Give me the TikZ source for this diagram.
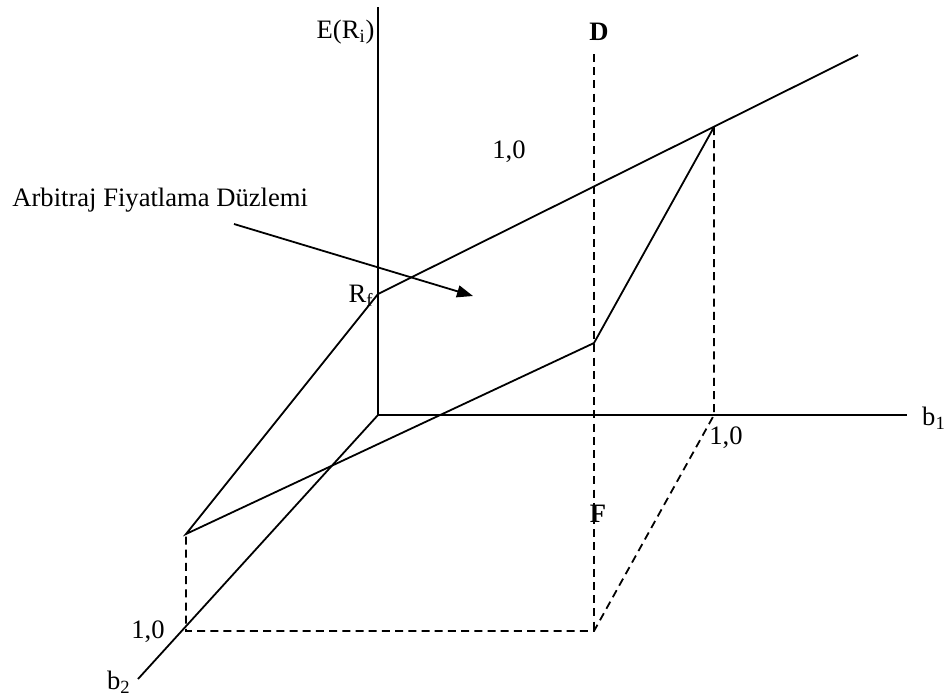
\documentclass[tikz,border=0pt]{standalone}
\usepackage{fontspec}
\setmainfont{Liberation Serif}
\usetikzlibrary{positioning,calc,arrows.meta}
\tikzset{
  axis line/.style={line width=0.9pt},
  plane line/.style={line width=0.9pt},
  guide line/.style={line width=0.9pt, dash pattern=on 4pt off 2.6pt},
  note arrow/.style={line width=0.9pt, -{Triangle[length=8pt,width=6pt]}},
  lbl/.style={inner sep=0pt, font=\fontsize{13.3}{16}\selectfont},
}

\begin{document}
\begin{tikzpicture}[x=0.5pt,y=-0.5pt]
\useasboundingbox (0,0) rectangle (952,697);

%% points of the diagram
\coordinate (O)    at (378,415);
\coordinate (Etop) at (378,7);
\coordinate (b1e)  at (907,415);
\coordinate (b2e)  at (138,679);
\coordinate (Rf)   at (378,294);
\coordinate (up)   at (858,55);
\coordinate (P1)   at (714,127);
\coordinate (P2)   at (594,343);
\coordinate (P3)   at (186,534);
\coordinate (Dtop) at (594,54);
\coordinate (Fbot) at (594,631);
\coordinate (Q1)   at (714,415);
\coordinate (Q3)   at (186,631);
\coordinate (tail) at (234,224);
\coordinate (head) at (473,296);

%% axes
\draw[axis line] (Etop) -- (O) -- (b1e);
\draw[axis line] (O) -- (b2e);

%% plane
\draw[plane line] (up) -- (Rf) -- (P3) -- (P2) -- (P1);

%% projections
\draw[guide line] (Dtop) -- (Fbot);
\draw[guide line] (P1) -- (Q1) -- (Fbot) -- (Q3) -- (P3);

%% labels
\node[lbl, anchor=east] (ER) at (375,32) {E(R\textsubscript{i})};
\node[lbl] (Dlbl) at (599,32)  {\bfseries D};
\node[lbl] (Flbl) at (598,514) {\bfseries F};
\node[lbl] (Rflbl) at (361,296) {R\textsubscript{f}};
\node[lbl] (one1) at (509,152) {1,0};
\node[lbl] (one2) at (726,438) {1,0};
\node[lbl] (one3) at (148,632) {1,0};
\node[lbl] (b1l)  at (934,418) {b\textsubscript{1}};
\node[lbl] (b2l)  at (119,682) {b\textsubscript{2}};
\node[lbl, anchor=west] (plane) at (12,200) {Arbitraj Fiyatlama Düzlemi};

\draw[note arrow] (tail) -- (head);

\end{tikzpicture}
\end{document}
